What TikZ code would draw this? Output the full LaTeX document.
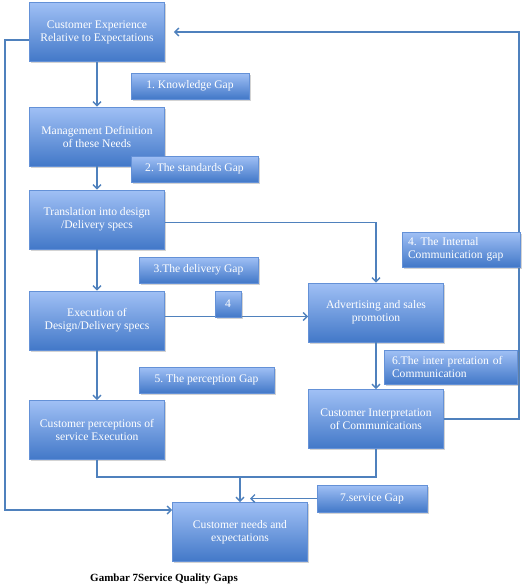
\documentclass[tikz,border=0pt]{standalone}
\usepackage{fontspec}
\setmainfont{Liberation Serif}
\usepackage{tikz}
\usetikzlibrary{arrows.meta,shadows}
\definecolor{boxtop}{RGB}{160,192,245}
\definecolor{boxbot}{RGB}{66,120,200}
\definecolor{boxline}{RGB}{100,145,215}
\definecolor{linkblue}{RGB}{79,129,189}
\frenchspacing

\begin{document}
\begin{tikzpicture}[x=1pt,y=-1pt,
  stage/.style={rectangle,top color=boxtop,bottom color=boxbot,draw=boxline,line width=.6pt,
    text=white,align=center,minimum width=135pt,minimum height=59pt,inner sep=2pt,
    font=\fontsize{11.6}{13}\selectfont,
    drop shadow={shadow xshift=1.5pt,shadow yshift=-1.5pt,opacity=.35}},
  gap/.style n args={2}{stage,minimum width=#1,minimum height=#2},
  link/.style={draw=linkblue,line width=1.4pt,-{Straight Barb[length=4pt,width=8pt]}},
  plain/.style={draw=linkblue,line width=1.4pt}]
\useasboundingbox (0,0) rectangle (523,587);
% main stages
\node[stage] (ce) at (97,32) {Customer Experience\\Relative to Expectations};
\node[stage] (md) at (97,136.5) {Management Definition\\of these Needs};
\node[stage] (td) at (97,219.5) {Translation into design\\/Delivery specs};
\node[stage] (ex) at (97,320.5) {Execution of\\Design/Delivery specs};
\node[stage] (cp) at (97,430) {Customer perceptions of\\service Execution};
\node[stage] (ad) at (376,312.5) {Advertising and sales\\promotion};
\node[stage] (ci) at (376,419) {Customer Interpretation\\of Communications};
\node[stage] (cn) at (240,532) {Customer needs and\\expectations};
% connectors
\coordinate (lft) at (5,510);
\coordinate (rgt) at (519,32);
\coordinate (merge) at (240,477);
\draw[link] (ce) -- (md);
\draw[link] (md) -- (td);
\draw[link] (td) -- (ex);
\draw[link] (ex) -- (cp);
\draw[link] ([yshift=-3pt]td.east) -| (ad.north);
\draw[link] ([yshift=4pt]ex.east) -- ([yshift=4pt]ex.east -| ad.west);
\draw[link] (ad) -- (ci);
\draw[link,shorten >=9pt] (ci.east) -| (rgt) -- (ce.east);
\draw[link] ([yshift=-8pt]ce.west) -| (lft) -- (lft -| cn.west);
\draw[plain] (cp.south) |- (ci.south |- merge) -- (ci.south);
\draw[link] (merge) -- (cn.north);
% gaps
\node[gap={118pt}{26pt}] (g1) at (190,86) {1. Knowledge Gap};
\node[gap={127pt}{26pt}] (g2) at (194.5,169) {2. The standards Gap};
\node[gap={119pt}{26pt}] (g3) at (198.5,270) {3.The delivery Gap};
\node[gap={26pt}{26pt}] (g4) at (228,304) {4};
\node[gap={135pt}{26pt}] (g5) at (206.5,380) {5. The perception Gap};
\node[gap={118pt}{35pt},align=left,text width=106pt] (g4i) at (461,249.5) {4. The Internal\\Communication gap};
\node[gap={133pt}{34pt},align=left,text width=117pt] (g6) at (450.5,367) {6.The inter pretation of\\Communication};
\node[gap={110pt}{27pt}] (g7) at (372,498.5) {7.service Gap};
\draw[link,shorten >=10pt] (g7.west) -- (g7.west -| merge);
% caption
\node[font=\bfseries\fontsize{11}{13}\selectfont] (cap) at (164,579) {Gambar 7Service Quality Gaps};
\end{tikzpicture}
\end{document}
